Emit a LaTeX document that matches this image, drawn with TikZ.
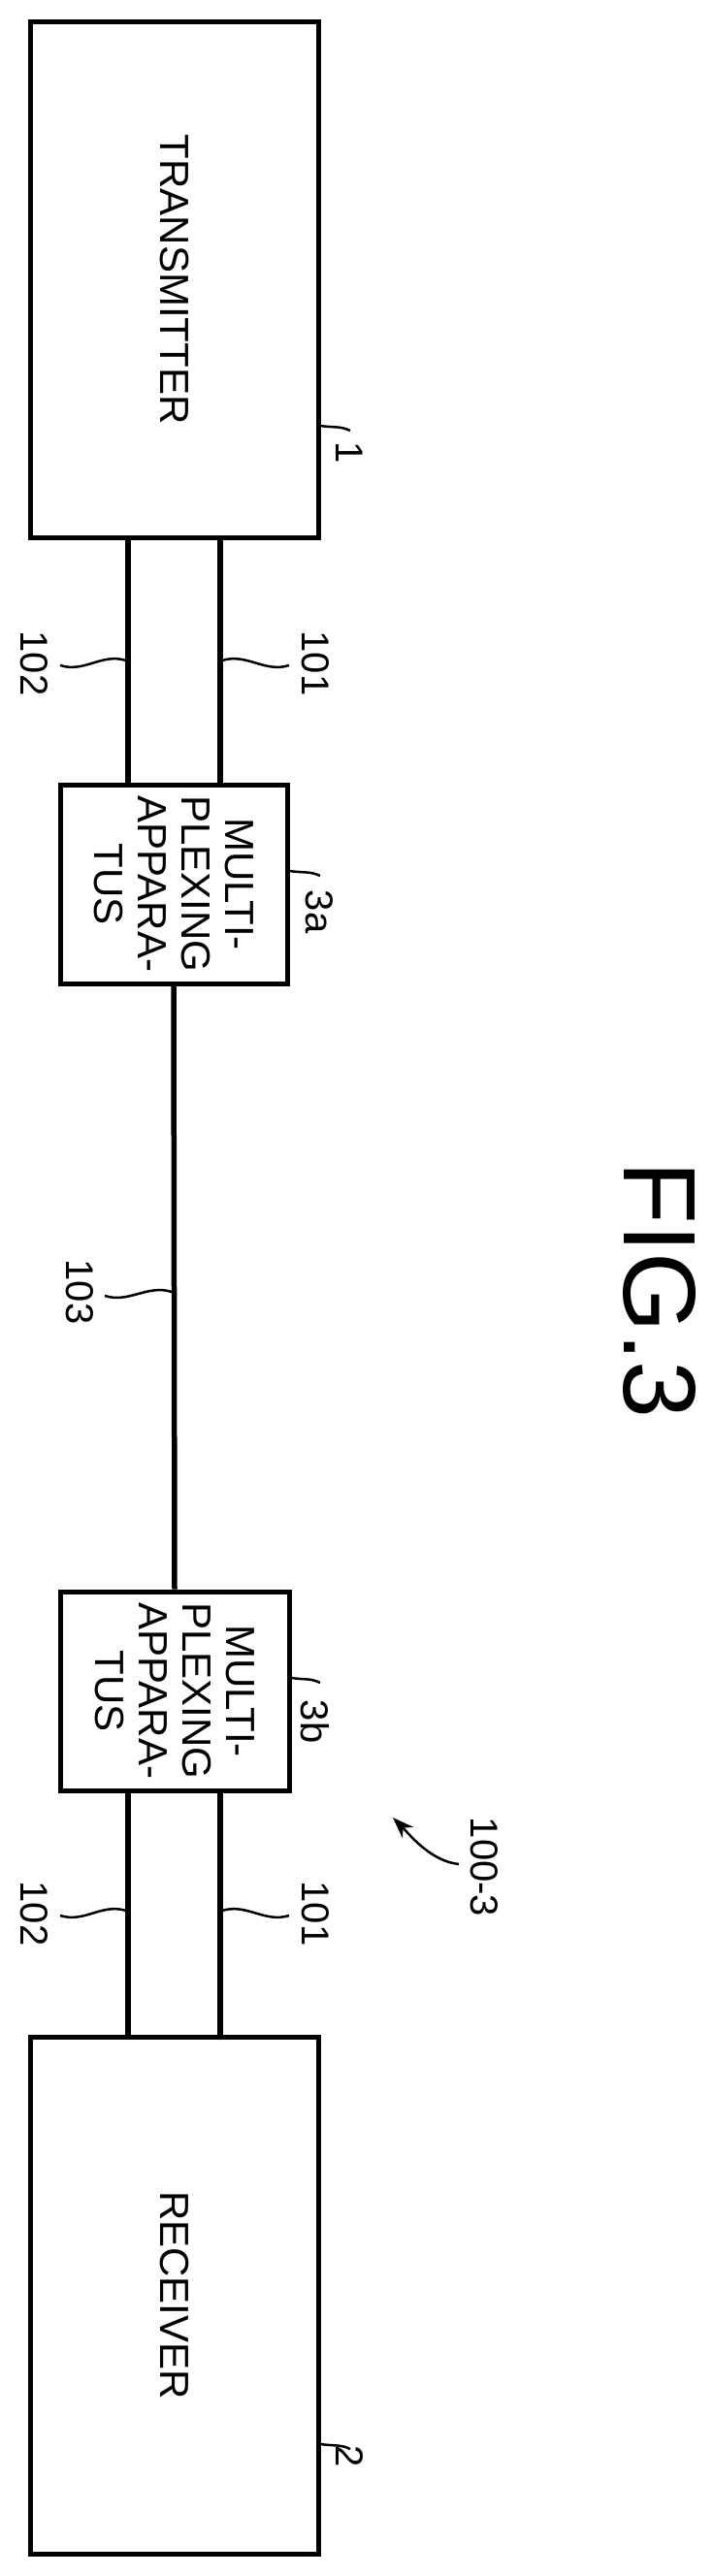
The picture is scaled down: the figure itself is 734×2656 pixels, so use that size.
\documentclass[tikz,border=0pt]{standalone}
\usepackage{fontspec}
\setmainfont{Liberation Sans}
\usetikzlibrary{arrows.meta,calc,positioning}

\begin{document}
\begin{tikzpicture}[x=1pt,y=-1pt,
    block/.style={draw,line width=5pt,inner sep=0pt},
    wire/.style={line width=5.5pt},
    lead/.style={line width=2.5pt},
    lbl/.style={rotate=-90,font=\fontsize{40}{44}\selectfont,inner sep=0pt},
    btxt/.style={rotate=-90,font=\fontsize{42}{45}\selectfont,align=center,inner sep=0pt}]
	\useasboundingbox (0,0) rectangle (734,2656);
	% blocks
	\node[block,minimum width=297pt,minimum height=532pt] (tx) at (179.5,288) {};
	\node[btxt] at (tx.center) {TRANSMITTER};
	\node[block,minimum width=234pt,minimum height=205pt] (mxa) at (179,911.5) {};
	\node[btxt] at (mxa.center) {MULTI-\\PLEXING\\APPARA-\\TUS};
	\node[block,minimum width=236pt,minimum height=205pt] (mxb) at (180,1743.5) {};
	\node[btxt] at (mxb.center) {MULTI-\\PLEXING\\APPARA-\\TUS};
	\node[block,minimum width=297pt,minimum height=533pt] (rx) at (179.5,2366.5) {};
	\node[btxt] at (rx.center) {RECEIVER};
	% wires
	\draw[wire] (tx.south -| 132,0) -- (mxa.north -| 132,0);
	\draw[wire] (tx.south -| 227,0) -- (mxa.north -| 227,0);
	\draw[wire] (mxa.south) -- (mxb.north);
	\draw[wire] (mxb.south -| 132,0) -- (rx.north -| 132,0);
	\draw[wire] (mxb.south -| 227,0) -- (rx.north -| 227,0);
	% reference labels
	\node[lbl] (n102a) at (35,684) {102};
	\node[lbl] (n101a) at (325,684) {101};
	\node[lbl] (n103) at (82,1332) {103};
	\node[lbl] (n102b) at (35,1973) {102};
	\node[lbl] (n101b) at (325,1973) {101};
	\node[lbl] (n1) at (360,467) {1};
	\node[lbl] (n3a) at (329,940) {3a};
	\node[lbl] (n3b) at (325,1775) {3b};
	\node[lbl] (n2) at (360,2533) {2};
	\node[lbl] (n100) at (499,1925) {100-3};
	\node[rotate=-90,font=\fontsize{106}{110}\selectfont,inner sep=0pt] (fig) at (680,1330) {FIG.3};
	% leaders
	\draw[lead] (130,681) .. controls +(-25,-8) and +(25,8) .. (62,686);
	\draw[lead] (229,681) .. controls +(25,-8) and +(-25,8) .. (298,686);
	\draw[lead] (177,1332) .. controls +(-25,-8) and +(25,8) .. (108,1336);
	\draw[lead] (130,1970) .. controls +(-25,-8) and +(25,8) .. (62,1975);
	\draw[lead] (229,1970) .. controls +(25,-8) and +(-25,8) .. (298,1975);
	\draw[lead] (tx.east |- 0,439) .. controls +(12,2) and +(-10,-5) .. (361,444);
	\draw[lead] (mxa.east |- 0,898) .. controls +(12,2) and +(-10,-5) .. (330,903);
	\draw[lead] (mxb.east |- 0,1730) .. controls +(12,2) and +(-10,-5) .. (330,1735);
	\draw[lead] (rx.east |- 0,2520) .. controls +(12,2) and +(-10,-5) .. (361,2525);
	\draw[lead,-{Stealth[length=22pt,width=16pt]}] (473,1922) .. controls +(-30,-3) and +(15,15) .. (405,1874);
\end{tikzpicture}
\end{document}
